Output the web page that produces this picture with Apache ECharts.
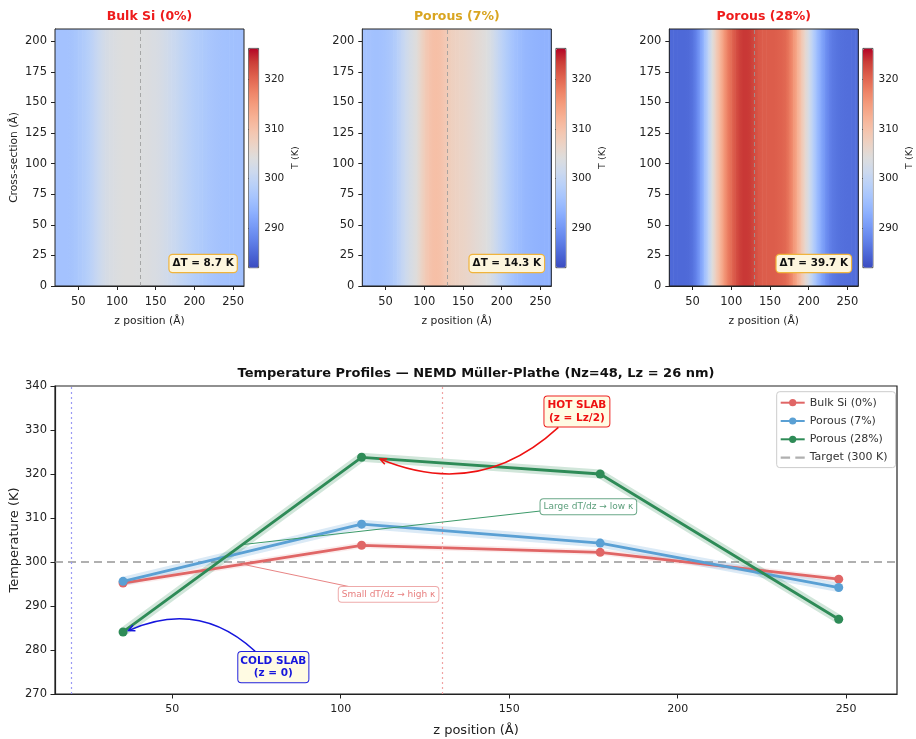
<!DOCTYPE html>
<html><head><meta charset="utf-8">
<script src="https://cdn.jsdelivr.net/npm/echarts@6/dist/echarts.min.js"></script>
<style>html,body{margin:0;padding:0;background:#fff}#c{width:916px;height:739px}</style>
</head><body><div id="c"></div>
<script>
// ---------------- data ----------------
const panelTitles = ['Bulk Si (0%)', 'Porous (7%)', 'Porous (28%)'];
const deltaT = [8.7, 14.3, 39.7];
const zGrid = [20,25,30,35,40,45,50,55,60,65,70,75,80,85,90,95,100,105,110,115,120,125,130,135,140,145,150,155,160,165,170,175,180,185,190,195,200,205,210,215,220,225,230,235,240,245,250,255,260];
const hmBulk = [296.0,296.0,296.0,296.0,296.2,296.5,297.0,297.5,298.2,299.0,
  300.0,301.0,302.0,302.7,303.2,303.6,303.9,304.1,304.2,304.2,
  304.2,304.1,304.0,303.9,303.8,303.6,303.4,303.0,302.6,302.1,
  301.5,301.0,300.4,299.8,299.2,298.7,298.2,297.8,297.4,297.0,
  296.7,296.4,296.2,296.0,295.9,295.8,295.7,295.6,295.6];
const hmP7 = [296.0,296.0,296.0,295.8,295.8,296.0,296.3,296.8,297.5,298.5,
  300.0,301.3,302.5,303.5,304.5,306.5,308.3,309.5,310.3,310.5,
  310.2,309.3,308.3,307.6,307.3,307.0,306.8,306.4,306.0,305.5,
  305.1,304.7,304.2,303.3,302.0,300.5,299.2,298.0,297.0,296.0,
  295.3,294.8,294.3,294.0,293.8,293.6,293.5,293.5,293.5];
const hmP28 = [285.0,285.0,285.0,285.0,285.0,285.2,286.0,288.0,291.0,295.0,
  299.5,304.0,308.0,311.5,315.0,318.0,320.0,321.8,323.2,323.8,
  323.8,323.5,322.5,321.5,321.0,321.0,321.0,321.0,320.8,320.5,
  320.0,318.5,316.0,313.0,309.5,306.0,302.5,299.0,295.5,292.5,
  290.0,288.0,286.8,286.2,285.8,285.6,285.5,285.5,285.5];
const heatTicksZ = [50,100,150,200,250];
const heatTicksY = [0,25,50,75,100,125,150,175,200];
const cbarTicks = [290,300,310,320];

const seriesNames = ['Bulk Si (0%)', 'Porous (7%)', 'Porous (28%)'];
const zPts = [35.4, 106.2, 177.0, 247.8];
const tBulk = [295.2, 303.8, 302.2, 296.1];
const tP7 = [295.6, 308.6, 304.3, 294.2];
const tP28 = [284.1, 323.8, 320.0, 287.0];
const profTicksX = [50,100,150,200,250];
const targetName = 'Target (300 K)';
const T_TARGET = 300;
const COLD_Z = 20, HOT_Z = 130;

// ---------------- style / layout ----------------
const FONT = 'DejaVu Sans';
const coolwarm = ['#3b4cc0','#4d68d7','#6282ea','#779af7','#8db0fe','#a3c2fe','#b8d0f9','#ccd9ee','#dddddd','#ecd3c5','#f5c4ad','#f7b194','#f49a7b','#ec7f63','#de604d','#cb3e38','#b40426'];
const CMIN = 282.1, CMAX = 326.3;
const HZ = [20, 264], HY = [0, 210];
const HX = [55, 362.3, 669.3], HW = 189, HT = 29, HH = 257;
const CB_DX = 193.2, CB_T = 48, CB_W = 10, CB_H = 219.3;
const titleColors = ['#ee1c1c', '#d9a521', '#ee1c1c'];
const lineColors = ['#e06666', '#5aa0d4', '#2e8b57'];
const PX = [15.2, 265.1];

const heatData = [hmBulk, hmP7, hmP28];

function heatRender(params, api) {
  const i = params.dataIndexInside, n = params.dataInsideLength;
  const z0 = api.value(0);
  const c0 = api.visual('color');
  let z1, c1;
  if (i < n - 1) { z1 = api.value(0, i + 1); c1 = api.visual('color', i + 1); }
  else { z1 = HZ[1]; c1 = c0; }
  const pTop = api.coord([z0, HY[1]]);
  const pBot = api.coord([z1, HY[0]]);
  return {
    type: 'rect',
    shape: { x: pTop[0], y: pTop[1], width: pBot[0] - pTop[0] + 0.6, height: pBot[1] - pTop[1] },
    style: { fill: { type: 'linear', x: 0, y: 0, x2: 1, y2: 0, colorStops: [{offset: 0, color: c0}, {offset: 1, color: c1}] } }
  };
}

const grids = [], xAxes = [], yAxes = [], series = [], visualMaps = [], graphics = [];

for (let p = 0; p < 3; p++) {
  grids.push({ left: HX[p], top: HT, width: HW, height: HH, show: true, borderColor: '#222', borderWidth: 1, backgroundColor: 'transparent', z: 5, outerBoundsMode: 'none' });
  xAxes.push({
    gridIndex: p, type: 'value', min: HZ[0], max: HZ[1],
    axisLine: { show: true, onZero: false, lineStyle: { color: '#222' } },
    axisTick: { show: true, customValues: heatTicksZ, length: 4, lineStyle: { color: '#222' } },
    axisLabel: { customValues: heatTicksZ, fontSize: 11.5, color: '#222', margin: 10.5, fontFamily: FONT },
    splitLine: { show: false },
    name: 'z position (Å)', nameLocation: 'middle', nameGap: 29.5, nameMoveOverlap: false,
    nameTextStyle: { fontSize: 10.7, color: '#222', fontFamily: FONT }
  });
  yAxes.push({
    gridIndex: p, type: 'value', min: HY[0], max: HY[1],
    axisLine: { show: true, onZero: false, lineStyle: { color: '#222' } },
    axisTick: { show: true, customValues: heatTicksY, length: 4, lineStyle: { color: '#222' } },
    axisLabel: { customValues: heatTicksY, fontSize: 11.5, color: '#222', margin: 8, fontFamily: FONT },
    splitLine: { show: false },
    name: p === 0 ? 'Cross-section (Å)' : '', nameLocation: 'middle', nameGap: 35, nameRotate: 90, nameMoveOverlap: false,
    nameTextStyle: { fontSize: 10.7, color: '#222', fontFamily: FONT }
  });
  series.push({
    type: 'custom', name: 'heat' + p, xAxisIndex: p, yAxisIndex: p, clip: true, silent: true,
    data: zGrid.map((z, k) => [z, heatData[p][k]]),
    encode: { x: 0 },
    renderItem: heatRender,
    markLine: {
      silent: true, symbol: ['none', 'none'], label: { show: false },
      lineStyle: { color: '#999', type: [4, 3], width: 1, opacity: 0.8 },
      emphasis: { disabled: true },
      data: [{ xAxis: HOT_Z }]
    },
    markPoint: {
      silent: true,
      data: [{
        coord: [HZ[1] - 8.8, 18.4], symbol: 'rect', symbolSize: 1, itemStyle: { color: 'rgba(0,0,0,0)' },
        label: {
          show: true, position: 'left', distance: 0,
          formatter: 'ΔT = ' + deltaT[p].toFixed(1) + ' K',
          fontSize: 10.4, fontWeight: 'bold', color: '#111', fontFamily: FONT,
          backgroundColor: '#fdf6de', borderColor: '#f0b43c', borderWidth: 1.2, borderRadius: 3,
          padding: [4, 3, 3, 3]
        }
      }]
    }
  });
  visualMaps.push({
    type: 'continuous', seriesIndex: p, dimension: 1, min: CMIN, max: CMAX,
    left: HX[p] + CB_DX, top: CB_T, itemWidth: CB_W, itemHeight: CB_H,
    calculable: false, hoverLink: false, text: null, padding: 0, show: true,
    borderColor: '#222', borderWidth: 0.8,
    inRange: { color: coolwarm }
  });
  graphics.push({
    type: 'text', id: 'title' + p, x: HX[p] + HW / 2, y: 16.5, silent: true,
    style: { text: panelTitles[p], fill: titleColors[p], font: 'bold 12.5px "DejaVu Sans"', align: 'center', verticalAlign: 'middle' }
  });
}
// colorbar tick axes
for (let p = 0; p < 3; p++) {
  grids.push({ left: HX[p] + CB_DX, top: CB_T, width: CB_W, height: CB_H, outerBoundsMode: 'none' });
  xAxes.push({ gridIndex: 3 + p, type: 'value', min: 0, max: 1, show: false });
  yAxes.push({
    gridIndex: 3 + p, type: 'value', position: 'right', min: CMIN, max: CMAX,
    axisLine: { show: false },
    axisTick: { show: true, customValues: cbarTicks, length: 3, lineStyle: { color: '#222' } },
    axisLabel: { customValues: cbarTicks, fontSize: 10.5, color: '#222', margin: 6, fontFamily: FONT },
    splitLine: { show: false },
    name: 'T (K)', nameLocation: 'middle', nameGap: 32, nameRotate: 90, nameMoveOverlap: false,
    nameTextStyle: { fontSize: 9.5, color: '#222', fontFamily: FONT }
  });
}
// profile chart
grids.push({ left: 55, top: 386, width: 842, height: 308, show: true, borderColor: '#222', borderWidth: 1.2, backgroundColor: 'transparent', z: 5, outerBoundsMode: 'none' });
xAxes.push({
  gridIndex: 6, type: 'value', min: PX[0], max: PX[1],
  axisLine: { show: true, onZero: false, lineStyle: { color: '#222', width: 1.2 } },
  axisTick: { show: true, customValues: profTicksX, length: 4.5, lineStyle: { color: '#222' } },
  axisLabel: { customValues: profTicksX, fontSize: 11, color: '#222', margin: 10, fontFamily: FONT },
  splitLine: { show: false },
  name: 'z position (Å)', nameLocation: 'middle', nameGap: 30, nameMoveOverlap: false,
  nameTextStyle: { fontSize: 13, color: '#222', fontFamily: FONT }
});
yAxes.push({
  gridIndex: 6, type: 'value', min: 270, max: 340, interval: 10,
  axisLine: { show: true, onZero: false, lineStyle: { color: '#222', width: 1.2 } },
  axisTick: { show: true, length: 4.5, lineStyle: { color: '#222' } },
  axisLabel: { fontSize: 11.5, color: '#222', margin: 8, fontFamily: FONT },
  splitLine: { show: false },
  name: 'Temperature (K)', nameLocation: 'middle', nameGap: 34, nameRotate: 90, nameMoveOverlap: false,
  nameTextStyle: { fontSize: 13, color: '#222', fontFamily: FONT }
});
// target line (also carries the slab guide lines)
series.push({
  type: 'line', name: targetName, xAxisIndex: 6, yAxisIndex: 6, silent: true,
  data: [[PX[0], T_TARGET], [PX[1], T_TARGET]], symbol: 'none',
  itemStyle: { color: '#b0b0b0' },
  lineStyle: { color: '#b0b0b0', width: 2, type: [8, 5] },
  markLine: {
    silent: true, symbol: ['none', 'none'], label: { show: false }, emphasis: { disabled: true },
    lineStyle: { type: [2, 3], width: 1.2 },
    data: [
      { xAxis: COLD_Z, lineStyle: { color: '#9a9af4', type: [2, 3], width: 1.2 } },
      { xAxis: HOT_Z, lineStyle: { color: '#f0a4a4', type: [2, 3], width: 1.2 } }
    ]
  }
});
const profs = [tBulk, tP7, tP28];
// bands
for (let s = 0; s < 3; s++) {
  series.push({
    type: 'line', name: 'band' + s, xAxisIndex: 6, yAxisIndex: 6, silent: true,
    data: zPts.map((z, k) => [z, profs[s][k]]), symbol: 'none',
    lineStyle: { color: lineColors[s], width: s === 0 ? 6 : 9, opacity: s === 0 ? 0.12 : 0.22 },
    itemStyle: { color: lineColors[s] }
  });
}
// main lines
for (let s = 0; s < 3; s++) {
  series.push({
    type: 'line', name: seriesNames[s], xAxisIndex: 6, yAxisIndex: 6, silent: true,
    data: zPts.map((z, k) => [z, profs[s][k]]),
    symbol: 'circle', symbolSize: 9,
    lineStyle: { color: lineColors[s], width: 2.8 },
    itemStyle: { color: lineColors[s] }, z: 3 + s
  });
}
const sBulk = series[series.length - 3], sP7 = series[series.length - 2], sP28 = series[series.length - 1];
const mid = (a, b) => (a + b) / 2;
// straight gradient arrows
sP7.markLine = {
  silent: true, symbol: ['none', 'arrow'], symbolSize: [0, 5], label: { show: false }, emphasis: { disabled: true },
  lineStyle: { type: 'solid', width: 1 },
  data: [
    [ { coord: [159.4, 311.6], lineStyle: { color: '#3c9a6a', type: 'solid', width: 1 } }, { coord: [mid(zPts[0], zPts[1]), mid(tP28[0], tP28[1])] } ],
    [ { coord: [103.8, 294.2], lineStyle: { color: '#e88484', type: 'solid', width: 1 } }, { coord: [mid(zPts[0], zPts[1]), mid(tBulk[0], tBulk[1])] } ]
  ]
};
function boxLabel(text, color, border, bg, size, bold, pad) {
  return {
    show: true, position: 'inside', formatter: text, color: color, fontSize: size,
    fontWeight: bold ? 'bold' : 'normal', lineHeight: size * 1.2, align: 'center', fontFamily: FONT,
    backgroundColor: bg, borderColor: border, borderWidth: 1, borderRadius: 3, padding: pad
  };
}
sP7.markPoint = {
  silent: true,
  data: [
    { coord: [170.1, 334.2], symbol: 'rect', symbolSize: 1, itemStyle: { color: 'rgba(0,0,0,0)' },
      label: boxLabel('HOT SLAB\n(z = Lz/2)', '#ee1111', '#ee2222', '#fffbe3', 10.5, true, [3, 3, 2, 3]) },
    { coord: [80.0, 276.1], symbol: 'rect', symbolSize: 1, itemStyle: { color: 'rgba(0,0,0,0)' },
      label: boxLabel('COLD SLAB\n(z = 0)', '#1515dd', '#2222dd', '#fffbe3', 10.5, true, [3, 2, 2, 2]) },
    { coord: [173.5, 312.56], symbol: 'rect', symbolSize: 1, itemStyle: { color: 'rgba(0,0,0,0)' },
      label: boxLabel('Large dT/dz → low κ', '#5a9e7a', '#6aa888', '#ffffff', 9, false, [2, 3, 2, 3]) },
    { coord: [114.2, 292.64], symbol: 'rect', symbolSize: 1, itemStyle: { color: 'rgba(0,0,0,0)' },
      label: boxLabel('Small dT/dz → high κ', '#e88080', '#eeaaaa', '#ffffff', 9, false, [2, 3, 2, 3]) }
  ]
};

graphics.push({
  type: 'text', id: 'mainTitle', x: 476, y: 373.5, silent: true,
  style: { text: 'Temperature Profiles — NEMD Müller-Plathe (Nz=48, Lz = 26 nm)', fill: '#111', font: 'bold 13px "DejaVu Sans"', align: 'center', verticalAlign: 'middle' }
});

const legendData = seriesNames.map(n => ({ name: n })).concat([
  { name: targetName, icon: 'path://M0,4h9v2h-9z M14,4h9v2h-9z', itemStyle: { color: '#b0b0b0' } }
]);

const option = {
  animation: false,
  backgroundColor: '#fff',
  textStyle: { fontFamily: FONT },
  grid: grids, xAxis: xAxes, yAxis: yAxes,
  visualMap: visualMaps,
  legend: {
    data: legendData, orient: 'vertical', left: 776.7, top: 391.7,
    itemWidth: 24, itemHeight: 9, itemGap: 6.3, padding: [5, 8, 4, 3],
    borderColor: '#cccccc', borderWidth: 1, borderRadius: 3, backgroundColor: '#ffffff',
    textStyle: { fontSize: 11, color: '#333', fontFamily: FONT, lineHeight: 12 },
    selectedMode: false
  },
  graphic: graphics,
  series: series
};
const chart = echarts.init(document.getElementById('c'), null, { renderer: 'canvas' });
chart.setOption(option);

// curved annotation arrows (data coordinates -> pixels through the grid's scales)
const curvedArrows = [
  { id: 'hot', from: [164.6, 330.6], to: [111.7, 323.4], curve: 0.32, color: '#ee1111' },
  { id: 'cold', from: [74.6, 279.7], to: [37.0, 284.4], curve: -0.33, color: '#1515dd' }
];
const arrowEls = [];
curvedArrows.forEach(a => {
  const p1 = chart.convertToPixel({ gridIndex: 6 }, a.from);
  const p2 = chart.convertToPixel({ gridIndex: 6 }, a.to);
  const cp = [(p1[0] + p2[0]) / 2 - (p1[1] - p2[1]) * a.curve, (p1[1] + p2[1]) / 2 - (p2[0] - p1[0]) * a.curve];
  arrowEls.push({ type: 'bezierCurve', id: a.id + 'Curve', silent: true, z: 10,
    shape: { x1: p1[0], y1: p1[1], x2: p2[0], y2: p2[1], cpx1: cp[0], cpy1: cp[1] },
    style: { stroke: a.color, lineWidth: 1.5, fill: null } });
  const ang = Math.atan2(p2[1] - cp[1], p2[0] - cp[0]);
  const L = 7, w = 0.45;
  arrowEls.push({ type: 'polyline', id: a.id + 'Head', silent: true, z: 10,
    shape: { points: [[p2[0] - L * Math.cos(ang - w), p2[1] - L * Math.sin(ang - w)], [p2[0], p2[1]], [p2[0] - L * Math.cos(ang + w), p2[1] - L * Math.sin(ang + w)]] },
    style: { stroke: a.color, lineWidth: 1.5, fill: null } });
});
chart.setOption({ graphic: graphics.concat(arrowEls) });
</script></body></html>
